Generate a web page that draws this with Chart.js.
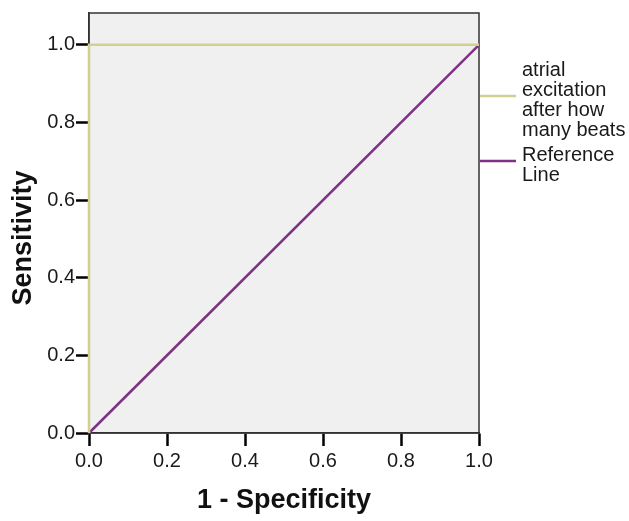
<!DOCTYPE html>
<html>
<head>
<meta charset="utf-8">
<script src="https://cdn.jsdelivr.net/npm/chart.js@4.4.1/dist/chart.umd.min.js"></script>
<style>
html,body{margin:0;padding:0;background:#fff;}
#wrap{width:629px;height:521px;}
</style>
</head>
<body>
<div id="wrap"><canvas id="c" width="629" height="521"></canvas></div>
<script>
const rocX = [0, 0, 1];
const rocY = [0, 1, 1];
const refX = [0, 1];
const refY = [0, 1];
const tickValues = [0, 0.2, 0.4, 0.6, 0.8, 1.0];
const seriesLabels = [["atrial", "excitation", "after how", "many beats"], ["Reference", "Line"]];
const xTitle = "1 - Specificity";
const yTitle = "Sensitivity";

const FONT = "'Liberation Sans', Arial, sans-serif";

const bgPlugin = {
  id: 'bg',
  beforeDraw(chart) {
    const {ctx, chartArea: a} = chart;
    ctx.save();
    ctx.fillStyle = '#f0f0f0';
    ctx.fillRect(a.left, a.top, a.right - a.left, a.bottom - a.top);
    ctx.restore();
  },
  beforeDatasetsDraw(chart) {
    const {ctx, chartArea: a} = chart;
    ctx.save();
    ctx.strokeStyle = '#333';
    ctx.lineWidth = 1.5;
    ctx.strokeRect(a.left, a.top, a.right - a.left, a.bottom - a.top);
    ctx.restore();
  },
  afterDraw(chart) {
    const {ctx, chartArea: a} = chart;
    ctx.save();
    // y title
    ctx.translate(24, 238);
    ctx.rotate(-Math.PI / 2);
    ctx.font = "bold 27px " + FONT;
    ctx.fillStyle = '#111';
    ctx.textAlign = 'center';
    ctx.textBaseline = 'middle';
    ctx.fillText(yTitle, 0, 0);
    ctx.restore();
    // legend
    ctx.save();
    const entries = [{y: 96, top: 70}, {y: 161, top: 155}];
    chart.data.datasets.forEach((ds, i) => {
      const e = entries[i];
      ctx.strokeStyle = ds.borderColor;
      ctx.lineWidth = 2.5;
      ctx.beginPath();
      ctx.moveTo(a.right + 1, e.y);
      ctx.lineTo(516, e.y);
      ctx.stroke();
      ctx.font = "20px " + FONT;
      ctx.fillStyle = '#1a1a1a';
      ctx.textAlign = 'left';
      ctx.textBaseline = 'middle';
      seriesLabels[i].forEach((t, k) => ctx.fillText(t, 522, e.top + 20 * k));
    });
    ctx.restore();
  }
};

new Chart(document.getElementById('c'), {
  type: 'scatter',
  data: {
    datasets: [
      {
        label: seriesLabels[0].join(' '),
        data: rocX.map((x, i) => ({x, y: rocY[i]})),
        showLine: true,
        borderColor: '#d3cf91',
        borderWidth: 2.5,
        pointRadius: 0,
        tension: 0,
        clip: false
      },
      {
        label: seriesLabels[1].join(' '),
        data: refX.map((x, i) => ({x, y: refY[i]})),
        showLine: true,
        borderColor: '#7d3283',
        borderWidth: 2.5,
        pointRadius: 0,
        tension: 0,
        clip: false
      }
    ]
  },
  options: {
    responsive: false,
    animation: false,
    layout: {padding: {top: 11, right: 150, left: 0, bottom: 0}},
    plugins: {legend: {display: false}, tooltip: {enabled: false}},
    scales: {
      x: {
        type: 'linear',
        min: 0, max: 1,
        afterBuildTicks(s) { s.ticks = tickValues.map(v => ({value: v})); },
        afterFit(s) { s.height = 88; },
        grid: {drawOnChartArea: false, drawTicks: true, tickLength: 13, tickColor: '#000', tickWidth: 2.5},
        border: {display: true, color: '#333', width: 1.5},
        ticks: {padding: 3, color: '#1a1a1a', font: {family: FONT, size: 20}, maxRotation: 0,
                callback: v => v.toFixed(1)},
        title: {display: true, text: xTitle, color: '#111', font: {family: FONT, size: 27, weight: 'bold'},
                padding: {top: 4, bottom: 4}}
      },
      y: {
        type: 'linear',
        min: 0, max: 1.082,
        afterBuildTicks(s) { s.ticks = tickValues.map(v => ({value: v})); },
        afterFit(s) { s.width = 89; },
        grid: {drawOnChartArea: false, drawTicks: true, tickLength: 13, tickColor: '#000', tickWidth: 2.5},
        border: {display: true, color: '#333', width: 1.5},
        ticks: {padding: 1, color: '#1a1a1a', font: {family: FONT, size: 20},
                callback: v => v.toFixed(1)}
      }
    }
  },
  plugins: [bgPlugin]
});
</script>
</body>
</html>
